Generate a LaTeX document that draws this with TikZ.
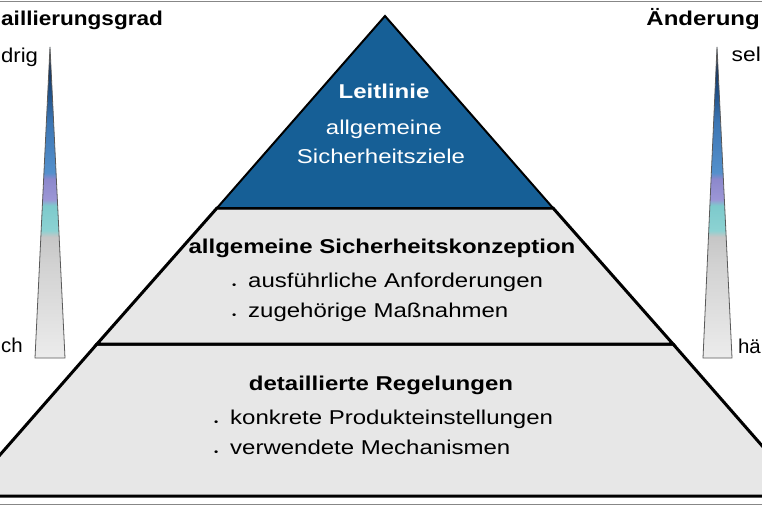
\documentclass[tikz,border=0pt]{standalone}
\usepackage{fontspec}
\setmainfont{Liberation Sans}[FakeStretch=1.2]
\usetikzlibrary{positioning}
\definecolor{pyrblue}{RGB}{22,95,150}
\definecolor{pyrgray}{RGB}{231,231,231}
\definecolor{framegray}{RGB}{135,135,135}
% colours of the two scales, from bottom to top
\definecolor{barA}{RGB}{236,236,236}
\definecolor{barB}{RGB}{210,210,210}
\definecolor{barC}{RGB}{198,198,198}
\definecolor{barD}{RGB}{140,210,210}
\definecolor{barE}{RGB}{125,202,204}
\definecolor{barF}{RGB}{156,150,214}
\definecolor{barG}{RGB}{140,136,204}
\definecolor{barH}{RGB}{84,144,204}
\definecolor{barI}{RGB}{60,118,180}
\definecolor{barJ}{RGB}{30,78,133}
\definecolor{barK}{RGB}{14,28,52}
\pgfdeclareverticalshading{barshade}{100bp}{color(0bp)=(barA); color(25bp)=(barA);
  color(40bp)=(barB); color(44.5bp)=(barC); color(45.5bp)=(barD); color(49.5bp)=(barE);
  color(50.5bp)=(barF); color(53.8bp)=(barG); color(54.8bp)=(barH); color(63bp)=(barI);
  color(68bp)=(barJ); color(75bp)=(barK); color(100bp)=(barK)}
\newcommand{\bul}{\makebox[16pt][l]{\raisebox{-1.5pt}{\fontsize{10}{10}\selectfont\textbullet}}}
\tikzset {
  x=1pt, y=-1pt,
  % tiers of the pyramid
  tier/.style={draw=black, line width=3pt, fill=pyrgray},
  toptier/.style={draw=black, line width=2pt, fill=pyrblue},
  % texts inside the tiers
  heading/.style={font=\fontsize{20}{24}\selectfont\bfseries, anchor=base, inner sep=0pt},
  plain/.style={font=\fontsize{20}{24}\selectfont, anchor=base, inner sep=0pt},
  item/.style={font=\fontsize{20}{24}\selectfont, anchor=base west, inner sep=0pt},
  % the two scales at the sides
  bar/.style={draw=black!65, line width=0.8pt, shading=barshade},
  side/.style={font=\fontsize{20}{24}\selectfont, inner sep=0pt},
}

\begin{document}
\begin{tikzpicture}
  \useasboundingbox (0,0) rectangle (762,508);
  \clip (0,0) rectangle (762,508);

  % frame lines
  \draw[framegray, line width=1.5pt] (0,1.5) -- (762,1.5);
  \draw[framegray, line width=1.5pt] (0,504.5) -- (762,504.5);

  % pyramid
  \draw[tier] (97,344) -- (673,344) -- (806,496) -- (-36,496) -- cycle;
  \draw[tier] (217,208) -- (553,208) -- (673,344) -- (97,344) -- cycle;
  \draw[toptier] (385,16) -- (553,208) -- (217,208) -- cycle;

  % top tier
  \node[heading, white] (leit) at (384,99) {Leitlinie};
  \node[plain, white] (ziel1) at (384,135) {allgemeine};
  \node[plain, white] (ziel2) at (381,163.5) {Sicherheitsziele};

  % middle tier
  \node[heading] (konz) at (382,253) {allgemeine Sicherheitskonzeption};
  \node[item] (anf) at (232,287) {\bul ausführliche Anforderungen};
  \node[item] (mass) [below=30pt of anf.base west, anchor=base west] {\bul zugehörige Maßnahmen};

  % bottom tier
  \node[heading] (regel) at (381,390) {detaillierte Regelungen};
  \node[item] (prod) at (214,424) {\bul konkrete Produkteinstellungen};
  \node[item] (mech) [below=30pt of prod.base west, anchor=base west] {\bul verwendete Mechanismen};

  % scale on the left
  \draw[bar] (50,47) -- (65,358) -- (35,358) -- cycle;
  \node[side, font=\fontsize{20}{24}\selectfont\bfseries, anchor=base west, xscale=0.94] (grad) at (1,26) {aillierungsgrad};
  \node[side, anchor=base west, xscale=0.92] (niedrig) at (1,63) {drig};
  \node[side, anchor=base west, xscale=0.85] (hoch) at (1,352) {ch};

  % scale on the right
  \draw[bar] (717,47) -- (732,358) -- (703,358) -- cycle;
  \node[side, font=\fontsize{20}{24}\selectfont\bfseries, anchor=base east] (aend) at (760,26) {Änderung};
  \node[side, anchor=base east, xscale=0.95] (selten) at (761,62) {sel};
  \node[side, anchor=base east, xscale=0.85] (haeufig) at (761,353) {hä};
\end{tikzpicture}
\end{document}
